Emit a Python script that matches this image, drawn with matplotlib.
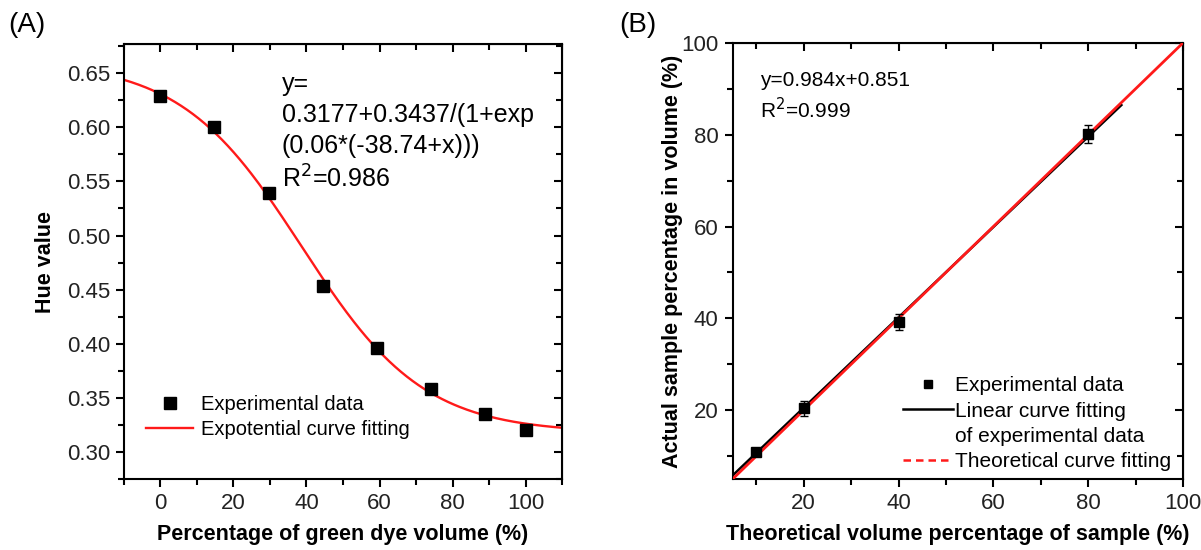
import numpy as np
import matplotlib
matplotlib.use("Agg")
import matplotlib.pyplot as plt
from matplotlib.lines import Line2D
from matplotlib.ticker import MultipleLocator, FormatStrFormatter

plt.rcParams["font.family"] = ["Liberation Sans", "DejaVu Sans"]

# panel A: hue value vs green dye percentage
dye_pct = [0, 14.8, 29.6, 44.4, 59.2, 74.0, 88.8, 100]
hue = [0.629, 0.600, 0.539, 0.453, 0.396, 0.358, 0.335, 0.320]
# fitted sigmoid parameters printed on the chart
fit_a, fit_b, fit_k, fit_x0 = 0.3177, 0.3437, 0.06, 38.74

# panel B: actual vs theoretical percentage
theo_pct = [10, 20, 40, 80]
actual_pct = [10.9, 20.4, 39.2, 80.2]
actual_err = [0.9, 1.6, 1.8, 1.9]
lin_slope, lin_icpt = 0.984, 0.851
lin_range = [5, 87]
theo_range = [5, 100]

INK = "black"
TICK = "#222222"
RED = "#ff1a1a"


def _style(ax, major, minor, xmajor, xminor):
    for s in ax.spines.values():
        s.set_linewidth(1.5)
    ax.tick_params(which="both", direction="out", width=1.5, labelsize=16,
                   labelcolor=TICK, top=False, right=False, pad=4)
    ax.tick_params(which="major", length=6)
    ax.tick_params(which="minor", length=4)
    # mirrored ticks pointing into the plot
    sx = ax.secondary_xaxis("top")
    sx.tick_params(which="both", direction="in", width=1.5, labeltop=False)
    sx.tick_params(which="major", length=6)
    sx.tick_params(which="minor", length=4)
    sx.xaxis.set_major_locator(MultipleLocator(xmajor))
    sx.xaxis.set_minor_locator(MultipleLocator(xminor))
    sy = ax.secondary_yaxis("right")
    sy.tick_params(which="both", direction="in", width=1.5, labelright=False)
    sy.tick_params(which="major", length=6)
    sy.tick_params(which="minor", length=4)
    sy.yaxis.set_major_locator(MultipleLocator(major))
    sy.yaxis.set_minor_locator(MultipleLocator(minor))


fig = plt.figure(figsize=(12.01, 5.5), dpi=100)
axA = fig.add_axes([0.1032, 0.129, 0.3648, 0.791])
axB = fig.add_axes([0.610, 0.129, 0.375, 0.793])

# ---- panel A
xs = np.linspace(-10, 110, 300)
ys = fit_a + fit_b / (1 + np.exp(fit_k * (xs - fit_x0)))
axA.plot(xs, ys, color=RED, lw=1.7, label="Expotential curve fitting", zorder=2)
axA.plot(dye_pct, hue, ls="none", marker="s", ms=8.5, color=INK,
         label="Experimental data", zorder=3)
axA.set_xlim(-10, 110)
axA.set_ylim(0.275, 0.677)
axA.xaxis.set_major_locator(MultipleLocator(20))
axA.xaxis.set_minor_locator(MultipleLocator(10))
axA.yaxis.set_major_locator(MultipleLocator(0.05))
axA.yaxis.set_minor_locator(MultipleLocator(0.025))
axA.yaxis.set_major_formatter(FormatStrFormatter("%.2f"))
_style(axA, 0.05, 0.025, 20, 10)
axA.set_xlabel("Percentage of green dye volume (%)", fontsize=15.5,
               fontweight="bold", labelpad=7)
axA.set_ylabel("Hue value", fontsize=15.5, fontweight="bold", labelpad=8)
axA.text(0.36, 0.935,
         "y=\n0.3177+0.3437/(1+exp\n(0.06*(-38.74+x)))\nR$^2$=0.986",
         transform=axA.transAxes, fontsize=18, va="top", ha="left",
         linespacing=1.35)
h, l = axA.get_legend_handles_labels()
axA.legend(h[::-1], l[::-1], loc="lower left", bbox_to_anchor=(0.01, 0.05),
           frameon=False, fontsize=14.5, handlelength=2.3,
           handletextpad=0.4, labelspacing=0.3)

# ---- panel B
lx = np.array(lin_range, dtype=float)
axB.plot(lx, lin_slope * lx + lin_icpt, color=INK, lw=1.8, zorder=2)
axB.plot(theo_range, theo_range, color=RED, lw=2.0, zorder=3)
axB.errorbar(theo_pct, actual_pct, yerr=actual_err, fmt="s", ms=7,
             color=INK, ecolor=INK, elinewidth=1, capsize=3, capthick=1,
             zorder=4)
axB.set_xlim(5, 100)
axB.set_ylim(5, 100)
for a in (axB.xaxis, axB.yaxis):
    a.set_major_locator(MultipleLocator(20))
    a.set_minor_locator(MultipleLocator(10))
_style(axB, 20, 10, 20, 10)
axB.set_xlabel("Theoretical volume percentage of sample (%)", fontsize=15.5,
               fontweight="bold", labelpad=7)
axB.set_ylabel("Actual sample percentage in volume (%)", fontsize=15.5,
               fontweight="bold", labelpad=-1)
axB.text(0.06, 0.935, "y=0.984x+0.851\nR$^2$=0.999", transform=axB.transAxes,
         fontsize=15, va="top", ha="left", linespacing=1.3)
handles = [Line2D([], [], ls="none", marker="s", ms=6, color=INK),
           Line2D([], [], color=INK, lw=1.8),
           Line2D([], [], color="none"),
           Line2D([], [], color=RED, lw=1.8, ls=(0, (3, 2)))]
labels = ["Experimental data", "Linear curve fitting",
          "of experimental data", "Theoretical curve fitting"]
axB.legend(handles, labels, loc="lower right", bbox_to_anchor=(1.015, -0.025),
           frameon=False, fontsize=15, handlelength=2.4,
           handletextpad=0.1, labelspacing=0.3)

fig.text(0.007, 0.955, "(A)", fontsize=20, va="center")
fig.text(0.516, 0.955, "(B)", fontsize=20, va="center")

fig.savefig("out.png", dpi=100)
